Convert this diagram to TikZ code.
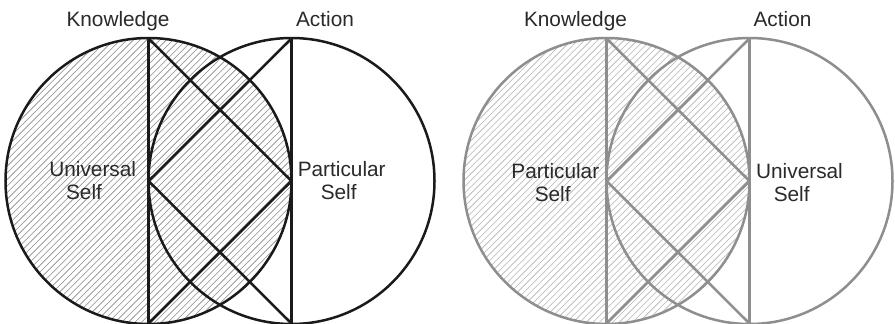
\documentclass[tikz,border=0pt]{standalone}
\usepackage{fontspec}
\setmainfont{Liberation Sans}
\definecolor{inkA}{HTML}{1A1A1A}
\definecolor{inkB}{HTML}{8E8E8E}
\definecolor{hatchA}{HTML}{8A8A8A}
\definecolor{hatchB}{HTML}{B4B4B4}
\definecolor{txt}{HTML}{2A2A2A}
\begin{document}
\begin{tikzpicture}[x=1pt,y=-1pt,
  outl/.style={line width=2.5pt, draw=#1},
  hatchline/.style={line width=0.6pt, draw=#1},
  lbl/.style={anchor=base, inner sep=0pt, text=txt, font=\fontsize{20.8}{24}\selectfont}]
\useasboundingbox[fill=white] (0,0) rectangle (895,324);
% one diagram, drawn twice
\foreach \sh/\ink/\hc in {0/inkA/hatchA, 458/inkB/hatchB}{
  \begin{scope}[xshift=\sh pt]
    \coordinate (c1) at (148.5,181);
    \coordinate (c2) at (291.5,181);
    \coordinate (t1) at (148.5,38.5);
    \coordinate (b1) at (148.5,323.5);
    \coordinate (t2) at (291.5,38.5);
    \coordinate (b2) at (291.5,323.5);
    \begin{scope}
      \clip (c1) circle (143pt);
      \foreach \i in {0,...,100}{
        \draw[hatchline=\hc] ({\i*6.6-320},335) -- ++(350,-350);
      }
    \end{scope}
    \draw[outl=\ink] (c1) circle (143pt);
    \draw[outl=\ink] (c2) circle (143pt);
    \draw[outl=\ink] (t1) -- (b1);
    \draw[outl=\ink] (t2) -- (b2);
    \draw[outl=\ink, line join=round] (t1) -- (c2) -- (b1);
    \draw[outl=\ink, line join=round] (t2) -- (c1) -- (b2);
  \end{scope}
}
% labels, left diagram
\node[lbl] (k1) at (118,26.7) {Knowledge};
\node[lbl] (a1) at (325,26.7) {Action};
\node[lbl] (u1) at (92.7,176) {Universal};
\node[lbl] (u1s) at (84,199) {Self};
\node[lbl] (p1) at (341.7,176) {Particular};
\node[lbl] (p1s) at (338.7,199) {Self};
% labels, right diagram
\node[lbl] (k2) at (575.5,26.7) {Knowledge};
\node[lbl] (a2) at (782.5,26.7) {Action};
\node[lbl] (p2) at (555.3,178) {Particular};
\node[lbl] (p2s) at (552.7,201) {Self};
\node[lbl] (u2) at (799.5,178) {Universal};
\node[lbl] (u2s) at (791.7,201) {Self};
\end{tikzpicture}
\end{document}
